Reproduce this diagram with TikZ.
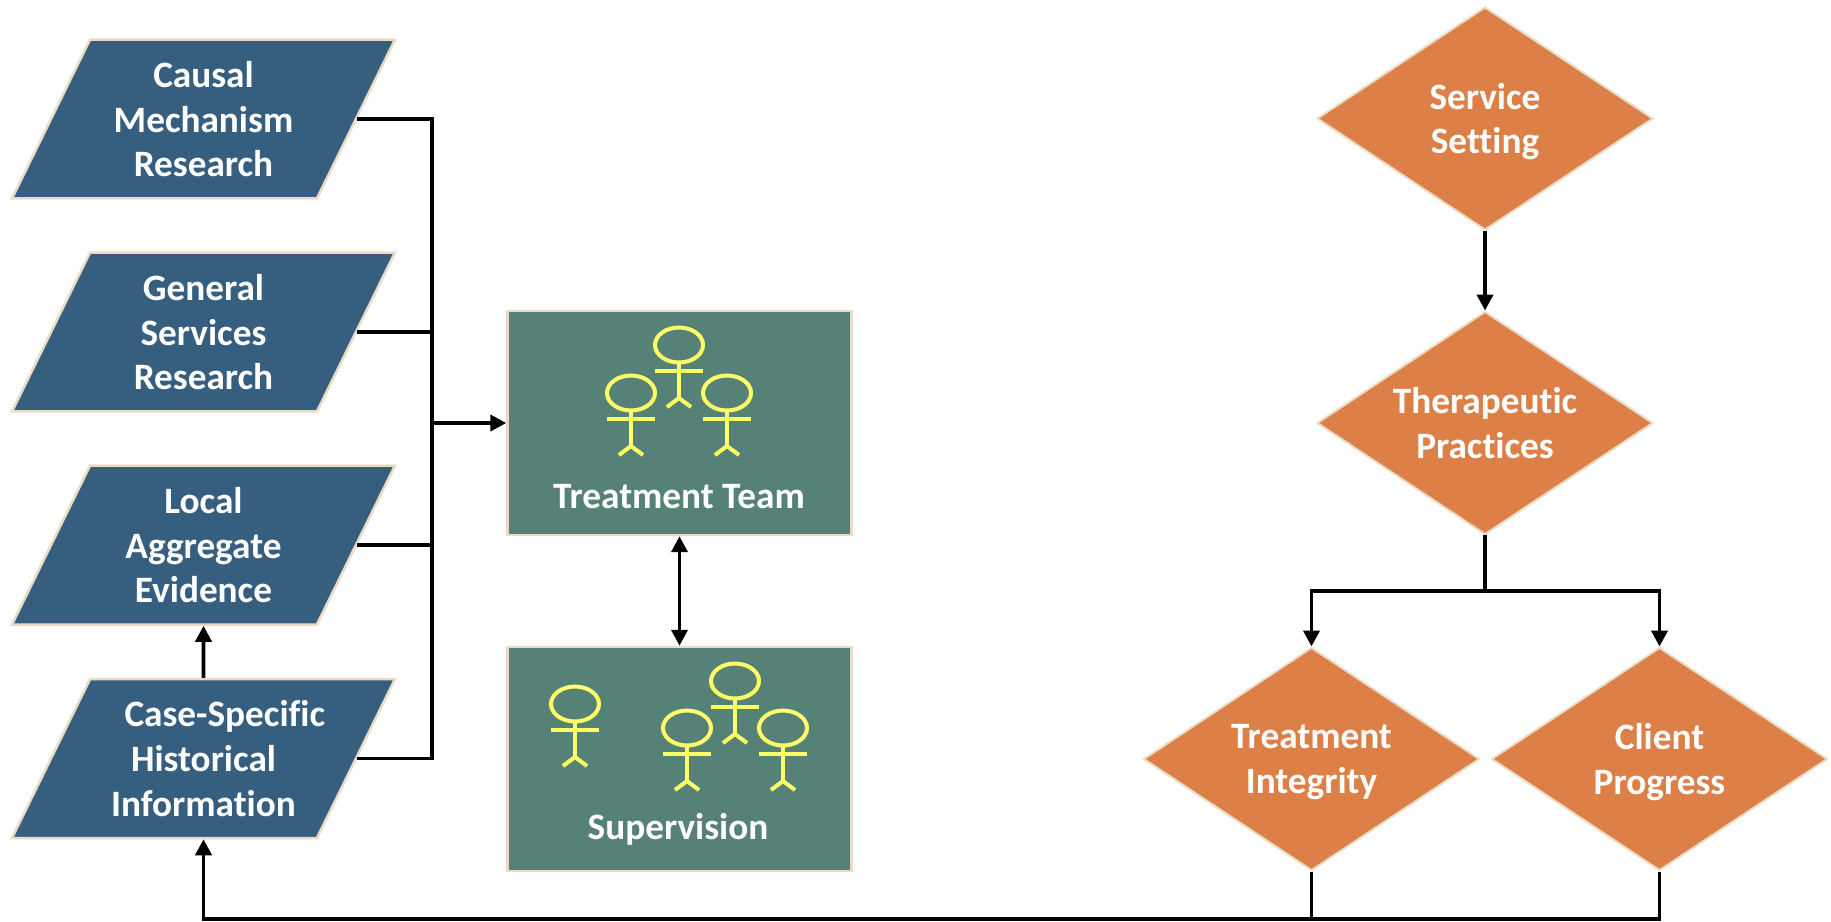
\documentclass[tikz,border=0pt]{standalone}
\usepackage{fontspec}
\setmainfont{Carlito}[Ligatures=NoCommon]
\usepackage{xcolor}
\definecolor{popblue}{HTML}{365F7F}
\definecolor{popgreen}{HTML}{568176}
\definecolor{poporange}{HTML}{DD8047}
\definecolor{popedge}{HTML}{EADCC4}
\definecolor{popman}{HTML}{FFFF66}
\usepackage{tikz}
\usetikzlibrary{arrows.meta}
\usetikzlibrary{shapes.geometric}
\newcommand{\stickman}[2]{
  \begin{scope}[shift={(#1,#2)},popman,line width=0.8mm]
    \draw (0,0) ellipse [x radius=0.48cm,y radius=0.35cm];
    \draw (-24,26) -- (24,26);
    \draw (0,18) -- (0,53);
    \draw (-12,62) -- (0,53) -- (12,62);
  \end{scope}
}
\newcommand{\lblstrut}{\rule{0pt}{15.6pt}}
\tikzset{
  lbl/.style={text=white,align=center,inner sep=0pt,font=\fontsize{21.2}{25.5}\selectfont\bfseries,
    execute at begin node=\lblstrut,text depth=0pt},
  evidence/.style={lbl,draw=popedge,fill=popblue,line width=0.5mm,trapezium,trapezium stretches body=true,
    trapezium left angle=56,trapezium right angle=124,minimum width=7.66cm,minimum height=3.18cm},
  group/.style={draw=popedge,fill=popgreen,line width=0.5mm,minimum width=6.88cm,minimum height=4.48cm},
  decide/.style={lbl,draw=popedge,fill=poporange,line width=0.4mm,diamond,aspect=1.5,
    minimum width=6.72cm,minimum height=4.46cm},
  flow/.style={draw=black,line width=2.2pt,-{Triangle[length=0.32cm,width=0.32cm]}},
  bus/.style={draw=black,line width=2.2pt},
}

\begin{document}
\begin{tikzpicture}[x=0.02cm,y=-0.02cm]
  \useasboundingbox (0,0) rectangle (1831,921);

  \node[evidence](cmr) at (203.5,119) {Causal\\Mechanism\\Research};
  \node[evidence](gsr) at (203.5,332) {General\\Services\\Research};
  \node[evidence](lae) at (203.5,545) {Local\\Aggregate\\Evidence};
  \node[evidence](chi) at (203.5,758.5) {\makebox[4cm][l]{\hspace*{0.42cm}Case-Specific}\\Historical\\Information};

  \node[group](team) at (679.5,423) {};
  \node[group](superv) at (679.5,759) {};
  \node[lbl](teamlbl) at (679,495) {Treatment Team};
  \node[lbl](supervlbl) at (678,826) {Supervision};

  \stickman{679}{345}
  \stickman{631}{393}
  \stickman{727}{393}

  \stickman{575}{704}
  \stickman{735}{681}
  \stickman{687}{728}
  \stickman{783}{728}

  \node[decide](setting) at (1485,118.5) {Service\\Setting};
  \node[decide](practices) at (1485,423) {Therapeutic\\Practices};
  \node[decide](integrity) at (1311.5,759) {Treatment\\Integrity};
  \node[decide](progress) at (1659.5,759) {Client\\Progress};

  \coordinate (join) at (432,423);
  \coordinate (split) at (1485,591);
  \coordinate (back) at (1311.5,919);

  \draw[bus] (cmr.east) -| (join);
  \draw[bus] (gsr.east) -| (join);
  \draw[bus] (lae.east) -| (join);
  \draw[bus] (chi.east) -| (join);
  \draw[flow] (join) -- (team.west);

  \draw[flow,{Triangle[length=0.32cm,width=0.32cm]}-{Triangle[length=0.32cm,width=0.32cm]}] (team.south) -- (superv.north);
  \draw[flow] (chi.north) -- (lae.south);

  \draw[flow] (setting.south) -- (practices.north);
  \draw[bus] (practices.south) -- (split);
  \draw[flow] (split) -| (integrity.north);
  \draw[flow] (split) -| (progress.north);

  \draw[bus] (integrity.south) -- (back);
  \draw[bus] (progress.south) |- (back);
  \draw[flow] (back) -| (chi.south);
\end{tikzpicture}
\end{document}
